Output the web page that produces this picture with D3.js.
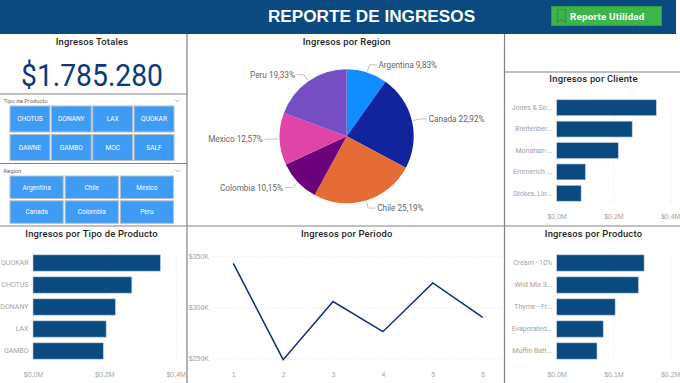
<!DOCTYPE html>
<html>
<head>
<meta charset="utf-8">
<script src="https://cdn.jsdelivr.net/npm/d3@7"></script>
<style>
  html, body { margin: 0; padding: 0; background: #fff; overflow: hidden; }
  svg { display: block; font-family: Roboto, sans-serif; }
  .panel-title { font-size: 9.4px; font-weight: 500; fill: #252423; text-anchor: middle; letter-spacing: 0.2px; }
  .axis text { fill: #a3a3a3; font-size: 7px; }
  .axis path, .axis line { display: none; }
  .grid line { stroke: #e4e4e4; stroke-width: 1; stroke-dasharray: 1 2; }
  .grid path { display: none; }
</style>
</head>
<body>
<div id="chart"></div>
<script>
// Data
const tipoButtons = ["CHOTUS", "DONANY", "LAX", "QUOKAR", "DAWNE", "GAMBO", "MOC", "SALF"];
const regionButtons = ["Argentina", "Chile", "Mexico", "Canada", "Colombia", "Peru"];

const regionNames = ["Argentina", "Canada", "Chile", "Colombia", "Mexico", "Peru"];
const regionValues = [9.83, 22.92, 25.19, 10.15, 12.57, 19.33];
const regionColors = ["#118dff", "#12239e", "#e66c37", "#6b007b", "#e044a7", "#744ec2"];

const clienteNames = ["Jones & So...", "Breitenber...", "Monahan-...", "Emmerich ...", "Stokes, Lin..."];
const clienteValues = [0.351, 0.266, 0.217, 0.101, 0.086];
const clienteTicks = [0, 0.2, 0.4];

const tipoNames = ["QUOKAR", "CHOTUS", "DONANY", "LAX", "GAMBO"];
const tipoValues = [0.357, 0.277, 0.231, 0.205, 0.197];
const tipoTicks = [0, 0.2, 0.4];

const productoNames = ["Cream - 10%", "Wild Mix 3...", "Thyme - Fr...", "Evaporated...", "Muffin Batt..."];
const productoValues = [0.154, 0.144, 0.103, 0.082, 0.071];
const productoTicks = [0, 0.1, 0.2];

const periodos = [1, 2, 3, 4, 5, 6];
const periodoValues = [343, 248.7, 305.6, 276.1, 323.9, 290.2];
const periodoTicks = [250, 300, 350];

const width = 680;
const height = 383;
const navy = "#0b4a80";
const blue = "#3f9cf5";

const svg = d3.select("#chart")
    .append("svg")
    .attr("width", width)
    .attr("height", height);

svg.append("rect").attr("width", width).attr("height", height).attr("fill", "#fff");

// Header
svg.append("rect")
    .attr("width", 676)
    .attr("height", 34)
    .attr("fill", navy);

svg.append("text")
    .attr("x", 371.5)
    .attr("y", 21.5)
    .attr("text-anchor", "middle")
    .attr("font-family", "'Liberation Sans', Arial, sans-serif")
    .attr("font-weight", "bold")
    .attr("font-size", 17.2)
    .attr("fill", "#fff")
    .text("REPORTE DE INGRESOS");

svg.append("rect")
    .attr("x", 551.5)
    .attr("y", 6.5)
    .attr("width", 110)
    .attr("height", 19)
    .attr("fill", "#3cb54a")
    .attr("stroke", "#2f9a3e");

svg.append("path")
    .attr("d", "M557.5 9.5h8v13l-4-3-4 3z")
    .attr("fill", "none")
    .attr("stroke", "#5f7a5f")
    .attr("stroke-width", 1.2);

svg.append("text")
    .attr("x", 570)
    .attr("y", 20)
    .attr("font-size", 9.8)
    .attr("font-weight", 700)
    .attr("letter-spacing", 0.2)
    .attr("fill", "#fff")
    .text("Reporte Utilidad");

// Panel borders
const borders = [
    [187, 34, 187, 383],
    [504.5, 34, 504.5, 383],
    [0, 94, 187, 94],
    [0, 163.5, 187, 163.5],
    [0, 226, 680, 226],
    [505, 72, 680, 72]
];
svg.append("g")
    .selectAll("line")
    .data(borders)
    .join("line")
    .attr("x1", d => d[0])
    .attr("y1", d => d[1])
    .attr("x2", d => d[2])
    .attr("y2", d => d[3])
    .attr("stroke", "#7f8287")
    .attr("stroke-width", 1.2);

const panelTitle = (text, x, y) => {
    svg.append("text")
        .attr("class", "panel-title")
        .attr("x", x)
        .attr("y", y)
        .text(text);
};

// KPI card
panelTitle("Ingresos Totales", 92, 45);
svg.append("text")
    .attr("x", 92)
    .attr("y", 86)
    .attr("text-anchor", "middle")
    .attr("font-size", 31)
    .attr("textLength", 142)
    .attr("lengthAdjust", "spacingAndGlyphs")
    .attr("fill", "#0b3a7a")
    .text("$1.785.280");

// Slicers
const drawSlicer = (label, items, cols, x0, x1, y0, rowH, rowStep, labelY) => {
    const g = svg.append("g");
    g.append("text")
        .attr("x", 3.5)
        .attr("y", labelY)
        .attr("font-size", 5.8)
        .attr("fill", "#6f6f6f")
        .text(label);
    g.append("path")
        .attr("d", `M175 ${labelY - 3}l2.5 2.5 2.5-2.5`)
        .attr("fill", "none")
        .attr("stroke", "#9a9a9a")
        .attr("stroke-width", 0.7);

    const xBand = d3.scaleBand()
        .domain(d3.range(cols))
        .range([x0, x1])
        .paddingInner(0.035);

    items.forEach((item, i) => {
        const cx = xBand(i % cols);
        const cy = y0 + Math.floor(i / cols) * rowStep;
        g.append("rect")
            .attr("x", cx)
            .attr("y", cy)
            .attr("width", xBand.bandwidth())
            .attr("height", rowH)
            .attr("fill", blue)
            .attr("stroke", "#b4bfca")
            .attr("stroke-width", 1);
        g.append("text")
            .attr("x", cx + xBand.bandwidth() / 2)
            .attr("y", cy + rowH / 2 + 2.3)
            .attr("text-anchor", "middle")
            .attr("font-size", 6.6)
            .attr("fill", "#fff")
            .text(item);
    });
};

drawSlicer("Tipo de Producto", tipoButtons, 4, 10, 174, 106, 26, 28.5, 102.5);
drawSlicer("Region", regionButtons, 3, 10, 173.5, 176, 22.5, 24.8, 172.5);

// Pie
panelTitle("Ingresos por Region", 346.7, 45);

const pieG = svg.append("g")
    .attr("transform", "translate(346.7, 136.3)");
const radius = 67;
const pie = d3.pie().sort(null)(regionValues);
const arc = d3.arc().innerRadius(0).outerRadius(radius);

pieG.selectAll("path")
    .data(pie)
    .join("path")
    .attr("d", arc)
    .attr("fill", (d, i) => regionColors[i]);

const labelRadius = radius + 8;
pie.forEach((d, i) => {
    const mid = (d.startAngle + d.endAngle) / 2;
    const sx = Math.sin(mid);
    const sy = -Math.cos(mid);
    const dir = sx >= 0 ? 1 : -1;
    const ex = sx * labelRadius;
    const ey = sy * labelRadius;
    pieG.append("polyline")
        .attr("points", [[sx * (radius + 1), sy * (radius + 1)], [ex, ey], [ex + dir * 7, ey]].join(" "))
        .attr("fill", "none")
        .attr("stroke", "#a6a6a6")
        .attr("stroke-width", 0.7);
    pieG.append("text")
        .attr("x", ex + dir * 9)
        .attr("y", ey + 3)
        .attr("text-anchor", dir > 0 ? "start" : "end")
        .attr("font-size", 8.2)
        .attr("fill", "#666")
        .text(`${regionNames[i]} ${regionValues[i].toFixed(2).replace(".", ",")}%`);
});

// Horizontal bar panels
const drawBars = (opts) => {
    const { title, titleX, titleY, names, values, ticks, xRange, yRange, tickFmt, axisY } = opts;
    panelTitle(title, titleX, titleY);

    const x = d3.scaleLinear().domain([0, ticks[ticks.length - 1]]).range(xRange);
    const y = d3.scaleBand().domain(names).range(yRange).paddingInner(0.26).paddingOuter(0.13);

    svg.append("g")
        .attr("class", "grid")
        .attr("transform", `translate(0, ${yRange[1]})`)
        .call(d3.axisBottom(x).tickValues(ticks).tickSize(yRange[0] - yRange[1]).tickFormat(""));

    svg.append("g")
        .selectAll("rect")
        .data(names)
        .join("rect")
        .attr("x", x(0))
        .attr("y", d => y(d))
        .attr("width", (d, i) => x(values[i]) - x(0))
        .attr("height", y.bandwidth())
        .attr("fill", navy)
        .attr("stroke", "#b9c9dc")
        .attr("stroke-width", 0.6);

    svg.append("g")
        .attr("class", "axis")
        .attr("transform", `translate(${xRange[0]}, 0)`)
        .call(d3.axisLeft(y).tickSize(0).tickPadding(4.5))
        .selectAll("text")
        .attr("font-family", "Roboto, sans-serif");

    svg.append("g")
        .attr("class", "axis")
        .attr("transform", `translate(0, ${axisY})`)
        .call(d3.axisBottom(x).tickValues(ticks).tickSize(0).tickPadding(0).tickFormat(tickFmt))
        .selectAll("text")
        .attr("dy", "0.71em");
};

const fmtM = d => `$${d.toFixed(1).replace(".", ",")}M`;

drawBars({
    title: "Ingresos por Cliente", titleX: 593.5, titleY: 82,
    names: clienteNames, values: clienteValues, ticks: clienteTicks,
    xRange: [556.7, 670.2], yRange: [97, 204], tickFmt: fmtM, axisY: 214
});

drawBars({
    title: "Ingresos por Tipo de Producto", titleX: 91.5, titleY: 236.5,
    names: tipoNames, values: tipoValues, ticks: tipoTicks,
    xRange: [33, 175.7], yRange: [252, 362], tickFmt: fmtM, axisY: 372
});

drawBars({
    title: "Ingresos por Producto", titleX: 593.5, titleY: 236.5,
    names: productoNames, values: productoValues, ticks: productoTicks,
    xRange: [556.7, 670.2], yRange: [252, 362], tickFmt: fmtM, axisY: 372
});

// Line
panelTitle("Ingresos por Periodo", 346.7, 236.5);

const xLine = d3.scalePoint().domain(periodos).range([233.3, 482.7]);
const yLine = d3.scaleLinear().domain([250, 350]).range([358.3, 256.3]);

svg.append("g")
    .attr("class", "grid")
    .attr("transform", "translate(213, 0)")
    .call(d3.axisLeft(yLine).tickValues(periodoTicks).tickSize(-289).tickFormat(""));

svg.append("g")
    .attr("class", "axis")
    .attr("transform", "translate(209, 0)")
    .call(d3.axisLeft(yLine).tickValues(periodoTicks).tickSize(0).tickPadding(0).tickFormat(d => `$${d}K`));

svg.append("g")
    .attr("class", "axis")
    .attr("transform", "translate(0, 372)")
    .call(d3.axisBottom(xLine).tickSize(0).tickPadding(0))
    .selectAll("text")
    .attr("dy", "0.71em");

svg.append("path")
    .datum(periodoValues)
    .attr("d", d3.line().x((d, i) => xLine(periodos[i])).y(d => yLine(d)))
    .attr("fill", "none")
    .attr("stroke", "#0b2f78")
    .attr("stroke-width", 1.5);
</script>
</body>
</html>
